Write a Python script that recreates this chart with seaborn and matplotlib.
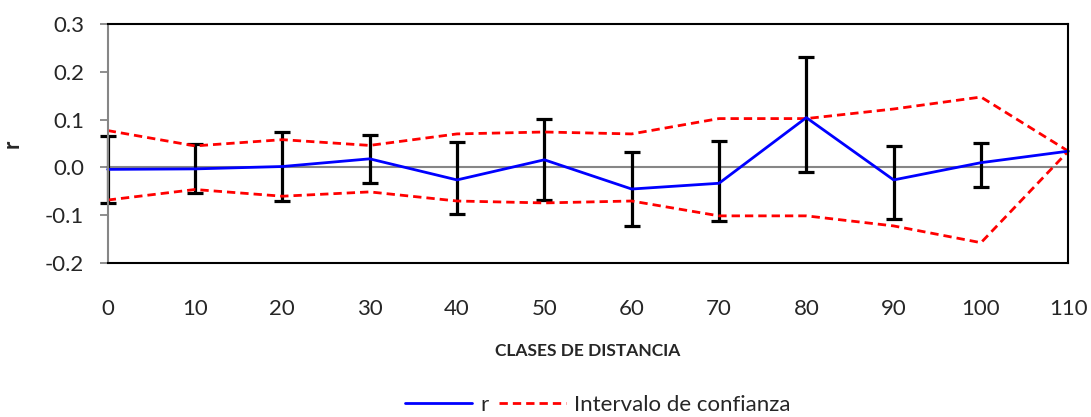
import matplotlib
matplotlib.use("Agg")
import matplotlib.pyplot as plt
import seaborn as sns
import pandas as pd
import numpy as np
from matplotlib.lines import Line2D

# Data
distance_classes = [0, 10, 20, 30, 40, 50, 60, 70, 80, 90, 100, 110]
r_values = [-0.004, -0.003, 0.002, 0.018, -0.026, 0.016, -0.045, -0.033, 0.104, -0.026, 0.010, 0.034]
ci_upper = [0.077, 0.045, 0.058, 0.046, 0.070, 0.074, 0.070, 0.102, 0.102, 0.122, 0.147, 0.034]
ci_lower = [-0.068, -0.046, -0.060, -0.051, -0.070, -0.074, -0.070, -0.101, -0.101, -0.122, -0.157, 0.034]
err_top = [0.066, 0.048, 0.075, 0.068, 0.053, 0.102, 0.032, 0.055, 0.231, 0.045, 0.052, 0.034]
err_bottom = [-0.075, -0.053, -0.070, -0.032, -0.098, -0.067, -0.122, -0.112, -0.010, -0.108, -0.040, 0.034]
y_ticks = [-0.2, -0.1, 0.0, 0.1, 0.2, 0.3]
y_tick_labels = ["-0.2", "-0.1", "0.0", "0.1", "0.2", "0.3"]

sns.set_theme(style="white")
plt.rcParams["font.family"] = ["Lato", "DejaVu Sans"]

df = pd.DataFrame({
    "dist": distance_classes,
    "r": r_values,
    "upper": ci_upper,
    "lower": ci_lower,
    "top": err_top,
    "bottom": err_bottom,
})

fig = plt.figure(figsize=(10.91, 4.17), dpi=100)
ax = fig.add_axes([107.7 / 1091, 1 - 263.3 / 417, (1068.3 - 107.7) / 1091, (263.3 - 23.7) / 417])

gray = "#868686"
ax.axhline(0, color=gray, lw=1.5, zorder=1)

# error bars around r
sub = df.iloc[:-1]
yerr = np.array([sub["r"] - sub["bottom"], sub["top"] - sub["r"]])
eb = ax.errorbar(sub["dist"], sub["r"], yerr=yerr, fmt="none", ecolor="black",
                 elinewidth=2.3, capsize=5.5, capthick=2.3, zorder=2)
for child in eb.get_children():
    child.set_clip_on(False)

dash = (0, (3.0, 1.8))
lw = 2.0
sns.lineplot(data=df, x="dist", y="r", color="#0000FF", lw=lw, ax=ax, zorder=4)
sns.lineplot(data=df, x="dist", y="upper", color="#FF0000", lw=lw, ax=ax, zorder=3,
             linestyle=dash)
sns.lineplot(data=df, x="dist", y="lower", color="#FF0000", lw=lw, ax=ax, zorder=3,
             linestyle=dash)
for ln in ax.get_lines():
    ln.set_clip_on(False)

ax.set_xlim(0, 110)
ax.set_ylim(-0.2, 0.3)
ax.set_xticks(distance_classes)
ax.set_xticklabels([str(d) for d in distance_classes], fontsize=16)
ax.set_yticks(y_ticks)
ax.set_yticklabels(y_tick_labels, fontsize=16)
ax.tick_params(axis="x", length=0, pad=26)
ax.tick_params(axis="y", length=6, width=1.3, color=gray, direction="out", pad=11, left=True)

for side in ["top", "right", "bottom"]:
    ax.spines[side].set_color("black")
    ax.spines[side].set_linewidth(1.5)
ax.spines["left"].set_color(gray)
ax.spines["left"].set_linewidth(1.5)
for s in ax.spines.values():
    s.set_visible(True)
    s.set_zorder(5)

ax.set_xlabel("CLASES DE DISTANCIA", fontsize=12.5, fontweight="bold", labelpad=17)
ax.set_ylabel("r", fontsize=16, fontweight="bold", labelpad=16)

handles = [
    Line2D([0], [0], color="#0000FF", lw=lw),
    Line2D([0], [0], color="#FF0000", lw=lw, linestyle=dash),
]
fig.legend(handles, ["r", "Intervalo de confianza"], loc="center",
           bbox_to_anchor=(598 / 1091, 1 - 405 / 417), ncol=2, frameon=False,
           fontsize=16, handlelength=3.0, handletextpad=0.36, columnspacing=0.5)

fig.savefig("out.png", dpi=100)
